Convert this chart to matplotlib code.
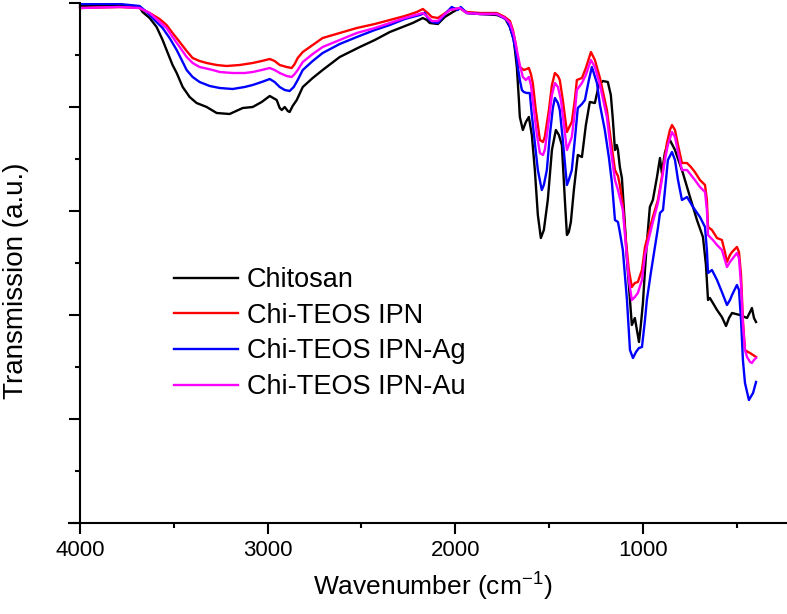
import matplotlib
matplotlib.use("Agg")
import matplotlib.pyplot as plt
from matplotlib.ticker import MultipleLocator

plt.rcParams['font.family'] = ['Liberation Sans', 'DejaVu Sans']
plt.rcParams['mathtext.fontset'] = 'custom'
plt.rcParams['mathtext.rm'] = 'Liberation Sans'
plt.rcParams['mathtext.it'] = 'Liberation Sans:italic'

labels = ["Chitosan", "Chi-TEOS IPN", "Chi-TEOS IPN-Ag", "Chi-TEOS IPN-Au"]
colors = ["#000000", "#FF0000", "#0000FF", "#FF00FF"]

# Chitosan
wn_chitosan = [4000,3789,3683,3667,3629,3592,3560,3539,3507,3485,3453,3416,3379,3325,3272,3203,3133,3080,3032,2989,
               2952,2936,2925,2909,2893,2883,2867,2845,2813,2760,2707,2616,2509,2429,2349,2227,2173,2152,2136,2093,
               2056,2013,1976,1939,1869,1779,1736,1709,1688,1672,1661,1656,1640,1624,1608,1592,1576,1560,1544,1528,
               1507,1485,1464,1448,1432,1416,1405,1395,1384,1368,1347,1325,1304,1283,1256,1235,1213,1187,1171,1160,
               1149,1139,1133,1123,1112,1096,1085,1069,1059,1043,1032,1021,1011,1000,989,979,963,947,925,909,
               899,883,867,856,829,787,749,712,680,664,653,643,627,605,579,557,541,525,483,445,
               429,419,408,397]
t_chitosan = [517,518,516,511,505,496,483,473,458,450,436,426,420,416,410,409,415,416,421,427,
              423,415,413,416,412,411,417,423,436,445,453,466,476,483,491,500,505,503,500,499,
              506,511,515,510,509,508,505,496,483,456,423,406,393,401,406,388,353,308,285,293,
              323,373,393,388,378,323,288,291,301,333,368,366,398,421,420,438,442,441,428,403,
              373,378,373,356,345,298,263,223,198,205,193,181,198,220,253,280,316,323,346,365,
              350,370,380,383,373,350,326,303,286,258,223,225,220,213,206,197,205,210,208,205,
              211,215,205,201]

# Chi-TEOS IPN
wn_ipn = [4000,3789,3683,3629,3576,3539,3507,3469,3432,3400,3363,3325,3272,3219,3149,3080,3032,2989,2963,2936,
          2899,2872,2856,2840,2813,2760,2707,2616,2525,2429,2349,2269,2205,2173,2147,2125,2093,2061,2029,1976,
          1939,1869,1779,1736,1709,1693,1677,1667,1656,1635,1619,1608,1597,1587,1571,1549,1533,1523,1501,1485,
          1469,1453,1443,1427,1405,1395,1379,1363,1352,1325,1304,1277,1256,1229,1192,1171,1149,1133,1123,1107,
          1091,1075,1059,1043,1027,1005,989,968,947,920,899,883,872,856,845,829,813,792,765,744,
          723,696,669,659,653,632,605,579,563,552,536,525,499,488,477,467,456,440,429,413,397]
t_ipn = [515,516,515,510,504,498,490,481,472,465,462,460,458,457,458,460,462,464,462,458,
         456,455,459,465,471,478,485,490,495,499,503,507,511,514,510,506,505,509,513,515,
         511,510,510,506,502,493,478,463,456,453,454,455,449,440,413,383,381,386,413,438,
         450,447,443,423,391,395,401,423,443,445,455,471,463,445,413,383,353,347,338,318,
         283,253,236,240,241,253,276,291,306,323,346,366,380,393,398,393,378,360,360,356,
         351,343,338,323,296,293,285,283,271,261,268,271,276,271,248,203,173,171,170,168,166]

# Chi-TEOS IPN-Ag
wn_ag = [4000,3789,3683,3645,3603,3560,3523,3485,3453,3432,3400,3363,3309,3256,3187,3123,3080,3032,2989,2963,
         2936,2909,2883,2861,2840,2813,2760,2707,2616,2525,2429,2349,2269,2189,2163,2147,2125,2093,2067,2045,
         2019,1987,1971,1939,1869,1779,1725,1709,1693,1677,1667,1656,1645,1635,1619,1603,1592,1576,1560,1539,
         1528,1512,1496,1480,1469,1453,1443,1427,1405,1395,1379,1363,1347,1325,1309,1288,1272,1245,1229,1203,
         1181,1165,1149,1133,1123,1107,1085,1069,1053,1037,1021,1005,989,979,957,936,920,909,893,877,
         867,845,829,813,792,765,733,696,669,659,653,632,605,579,552,536,525,499,488,477,
         467,456,435,413,397]
t_ag = [519,519,517,511,503,495,485,473,461,453,446,441,437,435,434,436,438,441,444,441,
        436,433,432,436,443,453,462,470,479,486,493,498,504,508,510,505,501,500,506,511,
        516,513,516,510,509,509,503,496,486,471,456,443,433,431,430,430,408,380,353,333,
        338,353,388,415,425,420,413,383,338,343,353,383,415,419,423,443,456,440,418,393,
        365,340,303,301,291,273,223,173,165,171,175,176,203,223,251,276,295,310,313,343,
        363,371,363,343,323,326,316,306,296,273,250,253,243,231,218,223,228,238,233,203,
        163,140,123,130,141]

# Chi-TEOS IPN-Au
wn_au = [4000,3789,3683,3629,3587,3539,3507,3469,3432,3400,3363,3293,3256,3187,3123,3080,3032,2989,2963,2936,
         2899,2872,2856,2840,2813,2760,2707,2616,2525,2429,2349,2269,2173,2147,2125,2093,2061,2029,1976,1939,
         1869,1779,1736,1709,1688,1672,1656,1640,1624,1608,1597,1581,1565,1549,1533,1523,1501,1485,1469,1453,
         1437,1421,1405,1395,1379,1363,1352,1325,1304,1277,1256,1229,1192,1171,1149,1133,1107,1091,1075,1059,
         1043,1027,1005,989,968,947,920,899,883,867,845,829,813,792,765,744,723,696,669,659,
         653,627,605,579,563,552,536,499,488,477,467,456,445,429,419,408,397]
t_au = [515,516,515,510,503,495,486,476,466,460,456,453,451,450,450,451,453,455,453,450,
        447,446,449,453,461,469,476,483,490,495,500,505,510,506,502,502,508,513,515,510,
        509,509,505,500,488,473,458,446,443,446,438,413,388,370,368,373,403,428,440,436,
        423,398,373,378,386,411,433,440,448,463,456,438,406,373,343,333,313,278,243,223,
        226,230,243,268,285,301,320,343,363,378,391,386,371,353,353,348,343,336,331,313,
        288,283,278,273,263,256,261,270,265,238,198,173,166,161,160,163,165]

series = [(wn_chitosan, t_chitosan), (wn_ipn, t_ipn), (wn_ag, t_ag), (wn_au, t_au)]
for w, t in series:
    assert len(w) == len(t), (len(w), len(t))

W, H = 787, 614
fig = plt.figure(figsize=(W / 100, H / 100), dpi=100)
ax = fig.add_axes([69 / W, (H - 523) / H, (787 - 69) / W, 520 / H])

for (w, t), c, lab in zip(series, colors, labels):
    ax.plot(w, t, color=c, lw=1.7, label=lab)

ax.set_xlim(4059, 232)
ax.set_ylim(0, 520)

for s in ("top", "right"):
    ax.spines[s].set_visible(False)
ax.spines["left"].set_position(("data", 4000))
for s in ("left", "bottom"):
    ax.spines[s].set_linewidth(1.5)

ax.xaxis.set_major_locator(MultipleLocator(1000))
ax.xaxis.set_minor_locator(MultipleLocator(500))
ax.yaxis.set_major_locator(MultipleLocator(104))
ax.yaxis.set_minor_locator(MultipleLocator(52))
ax.tick_params(which="major", direction="out", length=8, width=1.5, labelsize=16, pad=4)
ax.tick_params(which="minor", direction="out", length=3.6, width=1.5)
ax.tick_params(axis="y", which="both", labelleft=False)

ax.set_xlabel(r"Wavenumber (cm$^{\mathrm{-1}}$)", fontsize=19)
ax.xaxis.set_label_coords((433 - 69) / 718, -(571 - 523) / 520)
ax.set_ylabel("Transmission (a.u.)", fontsize=20)
ax.yaxis.set_label_coords((29 - 69) / 718, (523 - 281) / 520)

ax.legend(loc="upper left", bbox_to_anchor=(174 / W, (H - 267) / H),
          bbox_transform=fig.transFigure, frameon=False, fontsize=19.5,
          handlelength=2.36, handletextpad=0.33, labelspacing=0.36,
          borderpad=0, borderaxespad=0)

fig.savefig("out.png", dpi=100)
